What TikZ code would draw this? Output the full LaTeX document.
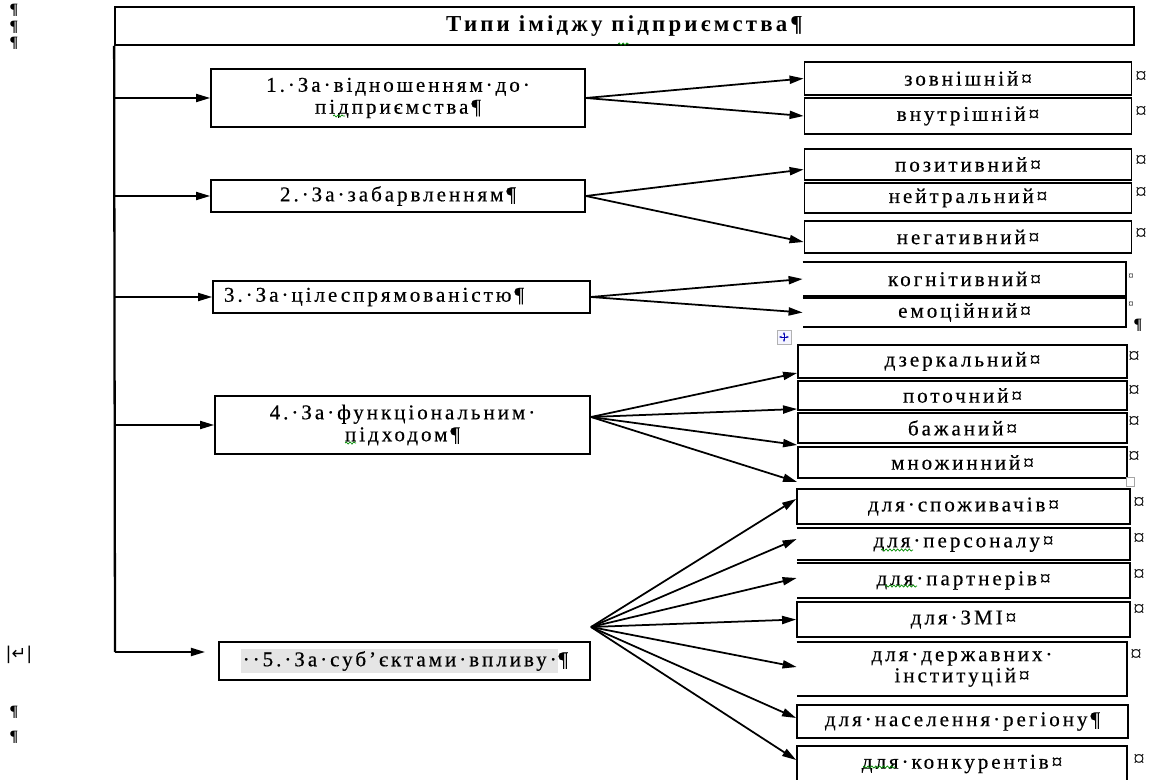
\documentclass[tikz,border=0pt]{standalone}
\usepackage{fontspec}
\setmainfont{Liberation Serif}
\newfontfamily\boxfamily[LetterSpace=14,FakeBold=0.4]{Liberation Serif}
\newfontfamily\titlefamily[LetterSpace=14]{Liberation Serif}
\newfontfamily\symfamily{DejaVu Sans}
\newcommand\boxfont{\boxfamily\fontsize{12}{12.5}\selectfont}
\newcommand\titlefont{\titlefamily\bfseries\fontsize{13}{15}\selectfont}
\usetikzlibrary{arrows.meta,decorations.pathmorphing}
\begin{document}
\begin{tikzpicture}[x=0.02cm,y=-0.02cm,
  cell/.style 2 args={minimum width=#1*0.02cm,minimum height=#2*0.02cm,inner sep=0pt,align=center,font=\boxfont},
  box/.style 2 args={cell={#1}{#2},draw,line width=1pt},
  arr/.style={line width=1pt,-{Triangle[length=8pt,width=4.6pt]}},
  cellmark/.style={inner sep=0pt,font=\fontsize{13}{13}\selectfont},
  pilcrow/.style={inner sep=0pt,font=\bfseries\fontsize{9}{9}\selectfont},
  squig/.style={green!55!black,line width=0.4pt,decorate,decoration={snake,amplitude=0.6pt,segment length=2.2pt}}]
  \useasboundingbox (0,0) rectangle (1150,780);
  \clip (0,0) rectangle (1150,780);
  \node[box={1019}{38},font=\titlefont] (title) at (624.5,26) {Типи іміджу підприємства¶};
  \node[box={374}{58}] (b1) at (398,98) {1.·За·відношенням·до·\\підприємства¶};
  \node[box={374}{32}] (b2) at (398,196) {2.·За·забарвленням¶};
  \node[box={377}{32}] (b3) at (401.5,297) {3.·За·цілеспрямованістю¶\hspace*{1.1cm}};
  \node[box={375}{58}] (b4) at (402.5,425) {4.·За·функціональним·\\підходом¶};
  \node[box={371}{38}] (b5) at (404.5,661) {{\fboxsep=1pt\colorbox{gray!20}{··5.·За·суб’єктами·впливу·}}¶};
  \node[box={327}{33}] (r11) at (968,78.5) {зовнішній¤};
  \node[box={327}{36}] (r12) at (968,116) {внутрішній¤};
  \node[box={327}{31}] (r21) at (968,164.5) {позитивний¤};
  \node[box={327}{30}] (r22) at (968,198) {нейтральний¤};
  \node[box={327}{32}] (r23) at (968,237) {негативний¤};
  \node[cell={323}{34}] (r31) at (964.5,279) {когнітивний¤};
  \node[cell={323}{29}] (r32) at (964.5,312.5) {емоційний¤};
  \node[box={329}{33}] (r41) at (962.5,361.5) {дзеркальний¤};
  \node[box={329}{29}] (r42) at (962.5,395.5) {поточний¤};
  \node[box={329}{30}] (r43) at (962.5,428) {бажаний¤};
  \node[box={329}{31}] (r44) at (962.5,462.5) {множинний¤};
  \node[box={333}{35}] (r51) at (963.5,506.5) {для·споживачів¤};
  \node[cell={333}{32}] (r52) at (963.5,544) {для·персоналу¤};
  \node[cell={333}{35}] (r53) at (963.5,580.5) {для·партнерів¤};
  \node[box={333}{35}] (r54) at (963.5,619.5) {для·ЗМІ¤};
  \node[cell={330}{54}] (r55) at (962,669) {для·державних·\\[-0.5pt]інституцій¤};
  \node[box={331}{33}] (r56) at (962.5,721.5) {для·населення·регіону¶};
  \node[box={330}{36}] (r57) at (962,764) {для·конкурентів¤};
  \foreach \n in {r31,r32,r52,r53,r55}
    \draw[line width=1pt] (\n.north west) -- (\n.north east) -- (\n.south east) -- (\n.south west);
  \coordinate (t5) at (115,652);
  \coordinate (e5) at (205,652);
  \coordinate (o4) at (591,417);
  \coordinate (o5) at (591,627);
  \draw[line width=1.3pt] (title.south west) -- (t5);
  \foreach \b in {b1,b2,b3,b4}
    \draw[arr] (title.south west |- \b.west) -- (\b.west);
  \draw[arr] (t5) -- (e5);
  \foreach \t in {r11,r12}
    \draw[arr] (b1.east) -- (\t.west);
  \foreach \t in {r21,r23}
    \draw[arr] (b2.east) -- ([yshift=-0.1cm]\t.west);
  \foreach \t in {r31,r32}
    \draw[arr] (b3.east) -- (\t.west);
  \foreach \t/\s in {r41/-0.23,r42/-0.27,r43/-0.34,r44/-0.39}
    \draw[arr] (o4) -- ([yshift=\s cm]\t.west);
  \foreach \t/\s in {r51/0.15,r52/0.1,r53/0.05,r54/0,r55/0.04,r56/0.07,r57/0.08}
    \draw[arr] (o5) -- ([yshift=\s cm]\t.west);
  \foreach \px/\py [count=\i] in {1141/77,1141/112,1141/161,1141/193,1141/234,1134/357,1134/391,1134/422,1134/457,1139/503,1139/539,1139/575,1139/610,1136/655,1139/760}
    \node[cellmark] (m\i) at (\px,\py) {¤};
  \foreach \py [count=\i] in {277,305}
    \node[cellmark,font=\fontsize{6}{6}\selectfont] (n\i) at (1131,\py) {¤};
  \foreach \px/\py [count=\i] in {14/10,14/27,14/43,14/712,14/737,1138/325}
    \node[pilcrow] (p\i) at (\px,\py) {¶};
  \node[inner sep=0pt,font=\symfamily\fontsize{10}{10}\selectfont] (brk) at (19,655) {|↵|};
  \draw[squig] (618,44) -- (629,44);
  \draw[squig] (333,116) -- (345,116);
  \draw[squig] (345,443) -- (356,443);
  \draw[squig] (881,550) -- (913,550);
  \draw[squig] (885,586) -- (917,586);
  \draw[squig] (863,767) -- (895,767);
  \draw[gray!60,fill=blue!4] (777,330) rectangle (791,344);
  \draw[blue!70!black,line width=0.5pt,{Stealth[length=1.6pt]}-{Stealth[length=1.6pt]}] (779,337) -- (789,337);
  \draw[blue!70!black,line width=0.5pt,{Stealth[length=1.6pt]}-{Stealth[length=1.6pt]}] (784,332) -- (784,342);
  \draw[gray!70,fill=white,line width=0.4pt] (1126,477) rectangle (1134,486);
\end{tikzpicture}
\end{document}
